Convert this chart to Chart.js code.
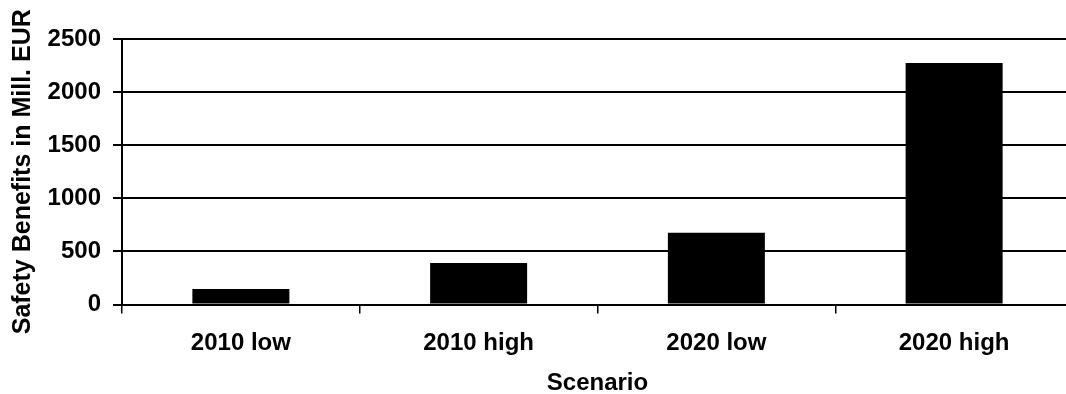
<!DOCTYPE html>
<html>
<head>
<meta charset="utf-8">
<script src="https://cdn.jsdelivr.net/npm/chart.js@4"></script>
<style>
    html, body { margin: 0; padding: 0; background: #fff; overflow: hidden; }
    #wrap { position: absolute; left: 0; top: 0; width: 1090px; height: 400px; }
</style>
</head>
<body>
<div id="wrap">
    <canvas id="chart" width="1090" height="400"></canvas>
</div>
<script>
    const scenarios = ["2010 low", "2010 high", "2020 low", "2020 high"]
    const benefits = [145, 390, 675, 2275]
    const yTicks = [0, 500, 1000, 1500, 2000, 2500]

    const fontFamily = "'Liberation Sans', Arial, sans-serif"
    const tickFont = { family: fontFamily, size: 24, weight: "bold" }

    const ctx = document.getElementById("chart").getContext("2d")

    new Chart(ctx, {
        type: "bar",
        data: {
            labels: scenarios,
            datasets: [{
                label: "Safety Benefits",
                data: benefits,
                backgroundColor: "#000",
                borderWidth: 0,
                barPercentage: 0.408,
                categoryPercentage: 1,
            }]
        },
        options: {
            responsive: false,
            animation: false,
            devicePixelRatio: 1,
            layout: {
                padding: { top: 39, right: 17, left: 0, bottom: 0 }
            },
            scales: {
                x: {
                    grid: {
                        offset: true,
                        drawOnChartArea: false,
                        color: "#000",
                        lineWidth: 1.5,
                        tickLength: 9,
                    },
                    border: { display: false },
                    ticks: {
                        color: "#000",
                        padding: 15,
                        maxRotation: 0,
                        font: tickFont,
                    },
                    title: {
                        display: true,
                        text: "Scenario",
                        color: "#000",
                        padding: { top: 0, bottom: 2 },
                        font: tickFont,
                    },
                    afterFit: (scale) => { scale.height = 400 - 304.5 },
                },
                y: {
                    min: 0,
                    max: 2500,
                    afterBuildTicks: (scale) => {
                        scale.ticks = yTicks.map(v => ({ value: v }))
                    },
                    grid: {
                        color: "#000",
                        lineWidth: 2,
                        tickLength: 9,
                    },
                    border: { display: true, color: "#000", width: 2 },
                    ticks: {
                        color: "#000",
                        padding: 12,
                        font: tickFont,
                        callback: (value) => String(value),
                    },
                    title: {
                        display: true,
                        text: "Safety Benefits in Mill. EUR",
                        color: "#000",
                        padding: { top: 8, bottom: 0 },
                        font: { family: fontFamily, size: 25, weight: "bold" },
                    },
                    afterFit: (scale) => { scale.width = 122 },
                }
            },
            plugins: {
                legend: { display: false },
                tooltip: { enabled: false },
            }
        }
    })
</script>
</body>
</html>
